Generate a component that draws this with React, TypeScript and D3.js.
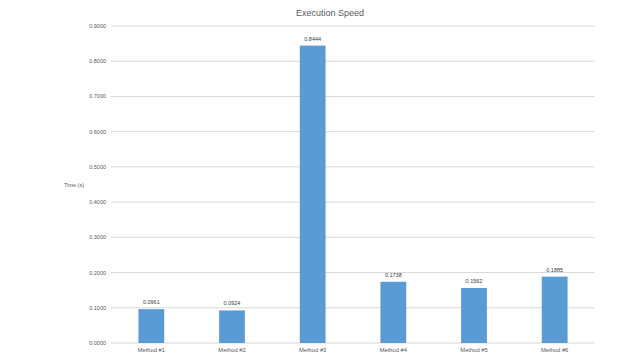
import React from "react";
import * as d3 from "d3";

const categories = ["Method #1", "Method #2", "Method #3", "Method #4", "Method #5", "Method #6"];
const values = [0.0961, 0.0924, 0.8444, 0.1738, 0.1562, 0.1885];
const yTicks = [0, 0.1, 0.2, 0.3, 0.4, 0.5, 0.6, 0.7, 0.8, 0.9];

export default function App() {
  const W = 640, H = 360;
  const left = 111, right = 595, top = 26, bottom = 343;
  const x = d3.scaleBand<string>().domain(categories).range([left, right]).paddingInner(0.68).paddingOuter(0.34);
  const y = d3.scaleLinear().domain([0, 0.9]).range([bottom, top]);
  const font = "'Liberation Sans', Arial, sans-serif";
  return (
    <svg width={W} height={H} style={{ position: "absolute", left: 0, top: 0, background: "#fff" }}>
      <text x={330} y={16} textAnchor="middle" fontFamily={font} fontSize={9} fill="#595959">Execution Speed</text>
      {yTicks.map((t) => (
        <g key={t}>
          <line x1={left} x2={right} y1={y(t)} y2={y(t)} stroke="#d9d9d9" strokeWidth={1} />
          <text x={106} y={y(t) + 2} textAnchor="end" fontFamily={font} fontSize={5.5} fill="#595959">{d3.format(".4f")(t)}</text>
        </g>
      ))}
      <text x={64} y={187} fontFamily={font} fontSize={5.5} fill="#595959">Time (s)</text>
      {categories.map((c, i) => (
        <g key={c}>
          <rect x={x(c)} y={y(values[i])} width={x.bandwidth()} height={y(0) - y(values[i])} fill="#5B9BD5" />
          <text x={(x(c) as number) + x.bandwidth() / 2} y={y(values[i]) - 5} textAnchor="middle" fontFamily={font} fontSize={5.5} fill="#404040">{d3.format(".4f")(values[i])}</text>
          <text x={(x(c) as number) + x.bandwidth() / 2} y={352} textAnchor="middle" fontFamily={font} fontSize={5.8} fill="#595959">{c}</text>
        </g>
      ))}
    </svg>
  );
}
